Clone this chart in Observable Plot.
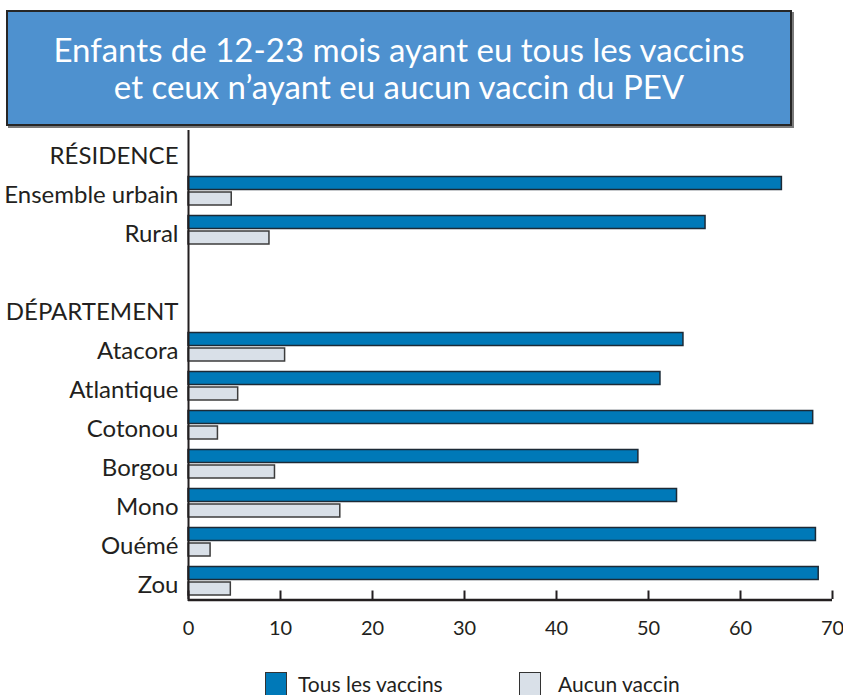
<!DOCTYPE html>
<html>
<head>
<meta charset="utf-8">
<script src="https://cdn.jsdelivr.net/npm/d3@7"></script>
<script src="https://cdn.jsdelivr.net/npm/@observablehq/plot@0.6"></script>
<style>
  html, body { margin: 0; padding: 0; background: #fff; }
  body { width: 843px; height: 695px; position: relative; overflow: hidden; font-family: Lato, sans-serif; color: #231f20; }
  #title {
    position: absolute; left: 6px; top: 10px; width: 782px; height: 112px;
    background: #4e91cf; border: 2.5px solid #262626;
    box-shadow: 2px 2px 0 #7a7a7a;
    color: #fff; text-align: center; font-family: Lato, sans-serif;
    font-size: 33px; line-height: 37px; box-sizing: content-box;
    display: flex; flex-direction: column; justify-content: center;
  }
  #chart { position: absolute; left: 0; top: 130px; }
  .leg { position: absolute; top: 673px; font-size: 21px; line-height: 22px; }
  .sw { position: absolute; top: 672px; width: 20px; height: 26px; border: 1.5px solid #333; }
</style>
</head>
<body>
<div id="title"><div>Enfants de 12-23 mois ayant eu tous les vaccins</div><div>et ceux n’ayant eu aucun vaccin du PEV</div></div>
<div id="chart"></div>
<div class="sw" style="left:265px;background:#0079b8;"></div>
<div class="leg" style="left:298px;">Tous les vaccins</div>
<div class="sw" style="left:519px;background:#d9e0e8;"></div>
<div class="leg" style="left:558px;">Aucun vaccin</div>
<script>
// Rows (including section headers and a blank spacer row)
const rows = ["RÉSIDENCE", "Ensemble urbain", "Rural", "", "DÉPARTEMENT",
  "Atacora", "Atlantique", "Cotonou", "Borgou", "Mono", "Ouémé", "Zou"];
const categories = ["Ensemble urbain", "Rural", "Atacora", "Atlantique", "Cotonou", "Borgou", "Mono", "Ouémé", "Zou"];
const tousLesVaccins = [64.5, 56.2, 53.8, 51.3, 67.9, 48.9, 53.1, 68.2, 68.5];
const aucunVaccin   = [4.7, 8.8, 10.5, 5.4, 3.2, 9.4, 16.5, 2.4, 4.6];
const xTicks = [0, 10, 20, 30, 40, 50, 60, 70];

const tous = categories.map((c, i) => ({cat: c, value: tousLesVaccins[i]}));
const aucun = categories.map((c, i) => ({cat: c, value: aucunVaccin[i]}));

const chart = Plot.plot({
  width: 843,
  height: 530,
  marginTop: 0,
  marginBottom: 59,
  marginLeft: 188,
  marginRight: 11,
  style: {fontFamily: "Lato, sans-serif", color: "#231f20", background: "transparent", overflow: "visible"},
  x: {domain: [0, 70], axis: null},
  y: {domain: rows, padding: 0, axis: null},
  marks: [
    Plot.barX(tous, {y: "cat", x1: 0, x2: "value", fill: "#0079b8", stroke: "#1c2a36", strokeWidth: 1.5, insetTop: 5.5, insetBottom: 20.5}),
    Plot.barX(aucun, {y: "cat", x1: 0, x2: "value", fill: "#d9e0e8", stroke: "#3c3c3c", strokeWidth: 1.5, insetTop: 21, insetBottom: 5}),
    Plot.tickX(xTicks, {x: d => d, y: () => "Zou", stroke: "#231f20", strokeWidth: 2, insetTop: 29.5, insetBottom: 1}),
    Plot.ruleX([0], {stroke: "#231f20", strokeWidth: 2}),
    Plot.ruleY(["Zou"], {y: d => d, x1: 0, x2: 70, dy: 19, stroke: "#231f20", strokeWidth: 2.5}),
    Plot.axisX({ticks: xTicks, tickSize: 0, tickPadding: 19, fontSize: 20, tickFormat: d => String(d), anchor: "bottom", label: null}),
    Plot.axisY({tickSize: 0, tickPadding: 10, fontSize: 24, dy: 4, anchor: "left", tickFormat: d => d, label: null})
  ]
});
document.getElementById("chart").appendChild(chart);
</script>
</body>
</html>
